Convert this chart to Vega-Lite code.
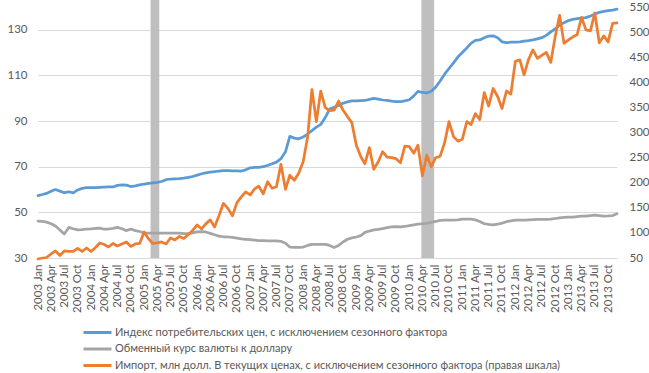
{
  "$schema": "https://vega.github.io/schema/vega-lite/v6.json",
  "autosize": {"type": "none"},
  "width": 579,
  "height": 258,
  "padding": {"left": 38, "top": 0, "right": 32, "bottom": 115},
  "background": "white",
  "config": {
    "font": "Lato",
    "view": {"stroke": null},
    "axis": {"labelColor": "#595959", "labelFontSize": 11.5, "ticks": false, "domain": false, "title": null}
  },
  "datasets": {
    "bands": [
      {"s": "2005-02-14", "e": "2005-04-15"},
      {"s": "2010-03-25", "e": "2010-06-21"}
    ],
    "series": [
      {"d":"2003-01-01","cpi":57.3,"fx":46.2,"imp":48},
      {"d":"2003-02-01","cpi":57.8,"fx":46.0,"imp":50},
      {"d":"2003-03-01","cpi":58.3,"fx":45.7,"imp":51},
      {"d":"2003-04-01","cpi":59.2,"fx":45.0,"imp":58},
      {"d":"2003-05-01","cpi":60.0,"fx":44.0,"imp":64},
      {"d":"2003-06-01","cpi":59.3,"fx":42.3,"imp":55},
      {"d":"2003-07-01","cpi":58.6,"fx":40.5,"imp":64},
      {"d":"2003-08-01","cpi":59.0,"fx":43.4,"imp":63},
      {"d":"2003-09-01","cpi":58.5,"fx":42.8,"imp":63},
      {"d":"2003-10-01","cpi":59.8,"fx":42.3,"imp":69},
      {"d":"2003-11-01","cpi":60.5,"fx":42.4,"imp":63},
      {"d":"2003-12-01","cpi":60.8,"fx":42.7,"imp":70},
      {"d":"2004-01-01","cpi":60.8,"fx":42.8,"imp":63},
      {"d":"2004-02-01","cpi":60.8,"fx":43.0,"imp":71},
      {"d":"2004-03-01","cpi":60.9,"fx":43.1,"imp":80},
      {"d":"2004-04-01","cpi":61.0,"fx":42.6,"imp":77},
      {"d":"2004-05-01","cpi":61.1,"fx":42.7,"imp":72},
      {"d":"2004-06-01","cpi":61.1,"fx":43.0,"imp":79},
      {"d":"2004-07-01","cpi":61.8,"fx":43.4,"imp":74},
      {"d":"2004-08-01","cpi":62.0,"fx":42.8,"imp":78},
      {"d":"2004-09-01","cpi":61.9,"fx":42.0,"imp":82},
      {"d":"2004-10-01","cpi":61.3,"fx":42.7,"imp":73},
      {"d":"2004-11-01","cpi":61.6,"fx":42.0,"imp":78},
      {"d":"2004-12-01","cpi":62.0,"fx":41.6,"imp":79},
      {"d":"2005-01-01","cpi":62.4,"fx":41.0,"imp":102},
      {"d":"2005-02-01","cpi":62.7,"fx":40.9,"imp":88},
      {"d":"2005-03-01","cpi":62.9,"fx":40.9,"imp":79},
      {"d":"2005-04-01","cpi":63.1,"fx":40.9,"imp":80},
      {"d":"2005-05-01","cpi":63.5,"fx":40.9,"imp":82},
      {"d":"2005-06-01","cpi":64.3,"fx":40.9,"imp":78},
      {"d":"2005-07-01","cpi":64.6,"fx":40.9,"imp":90},
      {"d":"2005-08-01","cpi":64.7,"fx":40.9,"imp":86},
      {"d":"2005-09-01","cpi":64.8,"fx":40.9,"imp":93},
      {"d":"2005-10-01","cpi":65.0,"fx":40.7,"imp":89},
      {"d":"2005-11-01","cpi":65.3,"fx":40.7,"imp":97},
      {"d":"2005-12-01","cpi":65.7,"fx":41.0,"imp":105},
      {"d":"2006-01-01","cpi":66.3,"fx":41.4,"imp":116},
      {"d":"2006-02-01","cpi":66.9,"fx":41.5,"imp":108},
      {"d":"2006-03-01","cpi":67.3,"fx":41.4,"imp":118},
      {"d":"2006-04-01","cpi":67.6,"fx":40.8,"imp":126},
      {"d":"2006-05-01","cpi":67.8,"fx":40.2,"imp":112},
      {"d":"2006-06-01","cpi":68.1,"fx":39.6,"imp":135},
      {"d":"2006-07-01","cpi":68.3,"fx":39.3,"imp":159},
      {"d":"2006-08-01","cpi":68.3,"fx":39.2,"imp":149},
      {"d":"2006-09-01","cpi":68.2,"fx":39.0,"imp":134},
      {"d":"2006-10-01","cpi":68.2,"fx":38.7,"imp":160},
      {"d":"2006-11-01","cpi":68.1,"fx":38.4,"imp":172},
      {"d":"2006-12-01","cpi":68.6,"fx":38.2,"imp":182},
      {"d":"2007-01-01","cpi":69.5,"fx":38.0,"imp":176},
      {"d":"2007-02-01","cpi":69.7,"fx":37.8,"imp":188},
      {"d":"2007-03-01","cpi":69.7,"fx":37.6,"imp":193},
      {"d":"2007-04-01","cpi":70.0,"fx":37.6,"imp":178},
      {"d":"2007-05-01","cpi":70.5,"fx":37.5,"imp":202},
      {"d":"2007-06-01","cpi":71.3,"fx":37.5,"imp":189},
      {"d":"2007-07-01","cpi":72.0,"fx":37.5,"imp":192},
      {"d":"2007-08-01","cpi":73.5,"fx":37.3,"imp":237},
      {"d":"2007-09-01","cpi":76.5,"fx":36.5,"imp":187},
      {"d":"2007-10-01","cpi":83.3,"fx":34.8,"imp":215},
      {"d":"2007-11-01","cpi":82.5,"fx":34.7,"imp":205},
      {"d":"2007-12-01","cpi":82.2,"fx":34.7,"imp":219},
      {"d":"2008-01-01","cpi":83.0,"fx":34.8,"imp":242},
      {"d":"2008-02-01","cpi":84.3,"fx":35.5,"imp":292},
      {"d":"2008-03-01","cpi":85.8,"fx":36.0,"imp":386},
      {"d":"2008-04-01","cpi":87.3,"fx":36.0,"imp":322},
      {"d":"2008-05-01","cpi":88.5,"fx":36.0,"imp":383},
      {"d":"2008-06-01","cpi":91.5,"fx":36.0,"imp":350},
      {"d":"2008-07-01","cpi":95.2,"fx":35.5,"imp":344},
      {"d":"2008-08-01","cpi":96.0,"fx":34.6,"imp":345},
      {"d":"2008-09-01","cpi":96.8,"fx":35.5,"imp":363},
      {"d":"2008-10-01","cpi":97.8,"fx":37.0,"imp":345},
      {"d":"2008-11-01","cpi":98.4,"fx":38.2,"imp":332},
      {"d":"2008-12-01","cpi":98.8,"fx":38.8,"imp":320},
      {"d":"2009-01-01","cpi":98.8,"fx":39.2,"imp":275},
      {"d":"2009-02-01","cpi":98.9,"fx":39.8,"imp":252},
      {"d":"2009-03-01","cpi":99.0,"fx":41.2,"imp":238},
      {"d":"2009-04-01","cpi":99.5,"fx":41.8,"imp":270},
      {"d":"2009-05-01","cpi":99.9,"fx":42.3,"imp":227},
      {"d":"2009-06-01","cpi":99.6,"fx":42.5,"imp":242},
      {"d":"2009-07-01","cpi":99.2,"fx":42.9,"imp":262},
      {"d":"2009-08-01","cpi":99.0,"fx":43.3,"imp":251},
      {"d":"2009-09-01","cpi":98.7,"fx":43.6,"imp":250},
      {"d":"2009-10-01","cpi":98.5,"fx":43.7,"imp":248},
      {"d":"2009-11-01","cpi":98.5,"fx":43.6,"imp":240},
      {"d":"2009-12-01","cpi":98.8,"fx":43.8,"imp":273},
      {"d":"2010-01-01","cpi":99.3,"fx":44.2,"imp":272},
      {"d":"2010-02-01","cpi":101.0,"fx":44.5,"imp":259},
      {"d":"2010-03-01","cpi":103.0,"fx":44.8,"imp":275},
      {"d":"2010-04-01","cpi":102.5,"fx":45.0,"imp":214},
      {"d":"2010-05-01","cpi":102.3,"fx":45.2,"imp":255},
      {"d":"2010-06-01","cpi":103.0,"fx":45.6,"imp":232},
      {"d":"2010-07-01","cpi":104.8,"fx":46.0,"imp":250},
      {"d":"2010-08-01","cpi":107.5,"fx":46.5,"imp":253},
      {"d":"2010-09-01","cpi":110.5,"fx":46.6,"imp":280},
      {"d":"2010-10-01","cpi":113.0,"fx":46.6,"imp":322},
      {"d":"2010-11-01","cpi":115.5,"fx":46.6,"imp":292},
      {"d":"2010-12-01","cpi":118.0,"fx":46.7,"imp":283},
      {"d":"2011-01-01","cpi":120.0,"fx":47.0,"imp":287},
      {"d":"2011-02-01","cpi":122.0,"fx":47.0,"imp":322},
      {"d":"2011-03-01","cpi":124.0,"fx":47.0,"imp":316},
      {"d":"2011-04-01","cpi":125.3,"fx":46.7,"imp":338},
      {"d":"2011-05-01","cpi":125.5,"fx":46.0,"imp":326},
      {"d":"2011-06-01","cpi":126.5,"fx":45.0,"imp":380},
      {"d":"2011-07-01","cpi":127.2,"fx":44.7,"imp":353},
      {"d":"2011-08-01","cpi":127.3,"fx":44.5,"imp":388},
      {"d":"2011-09-01","cpi":126.5,"fx":44.8,"imp":372},
      {"d":"2011-10-01","cpi":124.7,"fx":45.3,"imp":348},
      {"d":"2011-11-01","cpi":124.3,"fx":45.9,"imp":383},
      {"d":"2011-12-01","cpi":124.5,"fx":46.3,"imp":377},
      {"d":"2012-01-01","cpi":124.6,"fx":46.6,"imp":442},
      {"d":"2012-02-01","cpi":124.7,"fx":46.6,"imp":445},
      {"d":"2012-03-01","cpi":125.0,"fx":46.6,"imp":415},
      {"d":"2012-04-01","cpi":125.2,"fx":46.7,"imp":446},
      {"d":"2012-05-01","cpi":125.5,"fx":46.8,"imp":465},
      {"d":"2012-06-01","cpi":126.0,"fx":46.9,"imp":448},
      {"d":"2012-07-01","cpi":126.5,"fx":46.9,"imp":454},
      {"d":"2012-08-01","cpi":127.5,"fx":46.9,"imp":460},
      {"d":"2012-09-01","cpi":129.0,"fx":47.0,"imp":440},
      {"d":"2012-10-01","cpi":130.3,"fx":47.3,"imp":491},
      {"d":"2012-11-01","cpi":132.0,"fx":47.6,"imp":534},
      {"d":"2012-12-01","cpi":133.0,"fx":47.8,"imp":478},
      {"d":"2013-01-01","cpi":134.0,"fx":47.9,"imp":485},
      {"d":"2013-02-01","cpi":134.5,"fx":47.9,"imp":491},
      {"d":"2013-03-01","cpi":134.8,"fx":48.1,"imp":495},
      {"d":"2013-04-01","cpi":135.1,"fx":48.3,"imp":530},
      {"d":"2013-05-01","cpi":135.3,"fx":48.3,"imp":505},
      {"d":"2013-06-01","cpi":136.0,"fx":48.6,"imp":503},
      {"d":"2013-07-01","cpi":136.8,"fx":48.8,"imp":539},
      {"d":"2013-08-01","cpi":137.6,"fx":48.6,"imp":479},
      {"d":"2013-09-01","cpi":138.0,"fx":48.3,"imp":493},
      {"d":"2013-10-01","cpi":138.3,"fx":48.4,"imp":481},
      {"d":"2013-11-01","cpi":138.6,"fx":48.6,"imp":518},
      {"d":"2013-12-01","cpi":139.0,"fx":49.4,"imp":519}
    ]
  },
  "layer": [
    {
      "data": {"name": "bands"},
      "mark": {"type": "rect", "color": "#BFBFBF"},
      "encoding": {
        "x": {"field": "s", "type": "temporal", "scale": {"type": "utc", "domain": [{"year": 2003, "month": 1, "date": 1, "utc": true}, {"year": 2013, "month": 12, "date": 1, "utc": true}], "nice": false}},
        "x2": {"field": "e"}
      }
    },
    {
      "data": {"name": "series"},
      "transform": [
        {"fold": ["cpi", "fx"], "as": ["k", "v"]}
      ],
      "mark": {"type": "line", "strokeWidth": 2.75, "strokeJoin": "round", "strokeCap": "round"},
      "encoding": {
        "x": {
          "field": "d", "type": "temporal",
          "scale": {"type": "utc", "domain": [{"year": 2003, "month": 1, "date": 1, "utc": true}, {"year": 2013, "month": 12, "date": 1, "utc": true}], "nice": false},
          "axis": {
            "tickCount": {"interval": "month", "step": 3},
            "labelExpr": "utcFormat(datum.value, '%Y %b')",
            "labelAngle": -90,
            "labelOverlap": false,
            "labelFlush": false,
            "labelPadding": 6,
            "domain": true,
            "domainColor": "#D9D9D9",
            "grid": false
          }
        },
        "y": {
          "field": "v", "type": "quantitative",
          "scale": {"domain": [30, 143], "nice": false, "zero": false},
          "axis": {"orient": "left", "values": [30, 50, 70, 90, 110, 130], "grid": true, "gridColor": "#D9D9D9", "labelPadding": 11}
        },
        "color": {
          "field": "k", "type": "nominal",
          "scale": {"domain": ["cpi", "fx", "imp"], "range": ["#5B9BD5", "#A5A5A5", "#ED7D31"]},
          "legend": {
            "title": null,
            "orient": "none",
            "legendX": 52,
            "legendY": 325,
            "padding": 0,
            "symbolType": "M-2.33,0H2.33",
            "symbolSize": 144,
            "symbolStrokeWidth": 3,
            "labelFontSize": 11,
            "labelColor": "#595959",
            "labelLimit": 600,
            "labelOffset": 10,
            "rowPadding": 2.5,
            "labelExpr": "datum.value == 'cpi' ? 'Индекс потребительских цен, с исключением сезонного фактора' : datum.value == 'fx' ? 'Обменный курс валюты к доллару' : 'Импорт, млн долл. В текущих ценах, с исключением сезонного фактора (правая шкала)'"
          }
        }
      }
    },
    {
      "data": {"name": "series"},
      "transform": [
        {"fold": ["imp"], "as": ["k", "v"]}
      ],
      "mark": {"type": "line", "strokeWidth": 2.75, "strokeJoin": "round", "strokeCap": "round"},
      "encoding": {
        "x": {"field": "d", "type": "temporal", "scale": {"type": "utc", "domain": [{"year": 2003, "month": 1, "date": 1, "utc": true}, {"year": 2013, "month": 12, "date": 1, "utc": true}], "nice": false}},
        "y": {
          "field": "v", "type": "quantitative",
          "scale": {"domain": [50, 564.5], "nice": false, "zero": false},
          "axis": {"orient": "right", "values": [50, 100, 150, 200, 250, 300, 350, 400, 450, 500, 550], "grid": false, "labelPadding": 12}
        },
        "color": {"field": "k", "type": "nominal"}
      }
    }
  ],
  "resolve": {"scale": {"y": "independent"}, "axis": {"y": "independent"}}
}
